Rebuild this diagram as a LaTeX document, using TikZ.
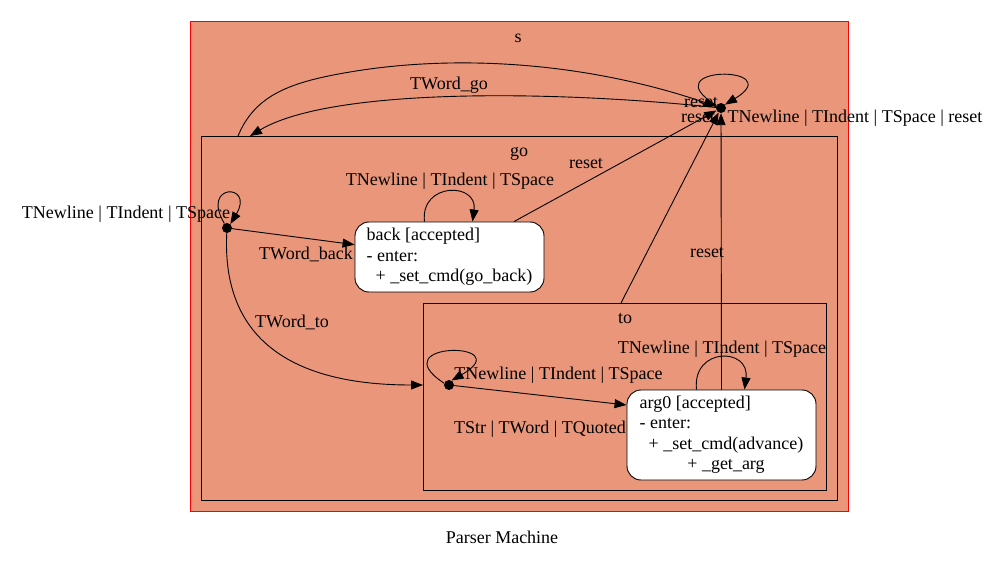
\documentclass[tikz,border=0pt]{standalone}
\usepackage{fontspec}
\setmainfont{Liberation Serif}
\usetikzlibrary{arrows.meta}
\definecolor{salmon}{RGB}{233,150,122}
\begin{document}
\begin{tikzpicture}[x=1pt,y=-1pt,
  font=\fontsize{18}{20.5}\selectfont,
  cluster/.style={draw=black, line width=0.9pt, inner sep=0pt, outer sep=0pt},
  edge/.style={draw=black, line width=0.9pt, -{Triangle[length=12pt,width=9pt]}},
  plain/.style={draw=black, line width=0.9pt},
  dotst/.style={circle, fill=black, inner sep=0pt, minimum size=10pt},
  state/.style={draw=black, fill=white, line width=0.9pt, rounded corners=14pt, inner sep=0pt, align=left},
  lbl/.style={inner sep=0pt, text height=12pt, text depth=0pt}]
\useasboundingbox (0,0) rectangle (1005,564);
% clusters
\node[cluster, draw=red, fill=salmon, minimum width=658pt, minimum height=490pt] (s) at (519,266) {};
\node[cluster, minimum width=636pt, minimum height=364pt] (go) at (519,318) {};
\node[cluster, minimum width=403pt, minimum height=187pt] (to) at (624.5,396.5) {};
\node[lbl] (sl) at (518,37) {s};
\node[lbl] (gol) at (519,151) {go};
\node[lbl] (tol) at (625,318) {to};
% states
\node[dotst] (sdot) at (721,108) {};
\node[dotst] (godot) at (227,228) {};
\node[dotst] (todot) at (449,385) {};
\node[state, minimum width=189pt, minimum height=70pt] (back) at (449.5,257)
  {back [accepted]\\- enter:\\\hspace*{9pt}+ \_set\_cmd(go\_back)};
\node[state, minimum width=189pt, minimum height=90pt] (arg0) at (721.5,435)
  {\begin{tabular}{@{}l@{}}arg0 [accepted]\\- enter:\\\hspace*{9pt}+ \_set\_cmd(advance)\\\multicolumn{1}{@{}c@{}}{\hspace*{9pt}+ \_get\_arg}\end{tabular}};
% labels
\node[lbl] (l1) at (449,84) {TWord\_go};
\node[lbl] (l2) at (701,102) {reset};
\node[lbl] (l3) at (698,117) {reset};
\node[lbl] (l4) at (855,117) {TNewline | TIndent | TSpace | reset};
\node[lbl] (l5) at (586,163) {reset};
\node[lbl] (l6) at (707,252) {reset};
\node[lbl] (l7) at (450,180) {TNewline | TIndent | TSpace};
\node[lbl] (l8) at (126,213) {TNewline | TIndent | TSpace};
\node[lbl] (l9) at (306,254) {TWord\_back};
\node[lbl] (l10) at (292,321) {TWord\_to};
\node[lbl] (l11) at (558.5,373) {TNewline | TIndent | TSpace};
\node[lbl] (l12) at (540,427) {TStr | TWord | TQuoted};
\node[lbl] (l13) at (722,348) {TNewline | TIndent | TSpace};
\node[lbl] (title) at (502,537) {Parser Machine};
% anchor coordinates
\coordinate (gotop1) at ([xshift=-281pt]go.north);
\coordinate (gotop2) at ([xshift=-269pt]go.north);
\coordinate (totop) at ([xshift=-3.5pt]to.north);
\coordinate (toin) at ([yshift=11.5pt]to.west);
\coordinate (argin) at ([yshift=30pt]arg0.west);
% edges
\draw[edge] (gotop1) .. controls (255,95) and (290,82) .. (350,72) .. controls (450,55) and (580,60) .. (sdot);
\draw[edge] (sdot) .. controls (550,90) and (330,88) .. (gotop2);
\draw[edge] (sdot.150) .. controls (650,65) and (790,65) .. (sdot.40);
\draw[edge] (back) -- (sdot);
\draw[edge] (totop) -- (sdot);
\draw[edge] (arg0.north) -- (sdot);
\draw[edge] (godot.120) .. controls (200,183) and (255,183) .. (godot.50);
\draw[edge] (godot) -- (back);
\draw[edge] (godot) .. controls (222,330) and (280,385) .. (toin);
\draw[edge] ([xshift=-25pt]back.north) .. controls (420,182) and (478,182) .. ([xshift=23pt]back.north);
\draw[edge] (todot.160) .. controls (380,341) and (520,341) .. (todot.60);
\draw[edge] (todot) -- (argin);
\draw[edge] ([xshift=-25pt]arg0.north) .. controls (692,347) and (750,347) .. ([xshift=23pt]arg0.north);
\end{tikzpicture}
\end{document}
